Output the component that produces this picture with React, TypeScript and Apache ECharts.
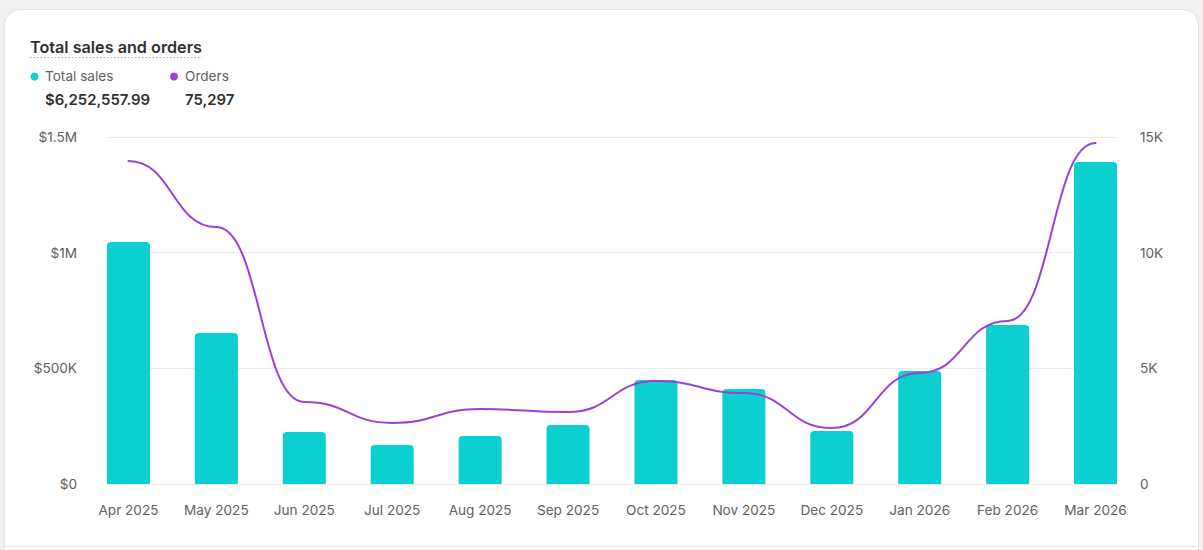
import React, { useEffect, useRef } from "react";
import * as echarts from "echarts";

// Monthly figures
const months = [
  "Apr 2025", "May 2025", "Jun 2025", "Jul 2025", "Aug 2025", "Sep 2025",
  "Oct 2025", "Nov 2025", "Dec 2025", "Jan 2026", "Feb 2026", "Mar 2026",
];
const totalSales = [
  1046000, 652700, 224800, 168600, 207500, 255000,
  449600, 410700, 229000, 488500, 687000, 1392000,
];
const orders = [
  13960, 11110, 3545, 2640, 3240, 3110,
  4450, 3930, 2420, 4800, 7050, 14740,
];
const salesTickLabels = ["$0", "$500K", "$1M", "$1.5M"];
const orderTickLabels = ["0", "5K", "10K", "15K"];
const totalSalesLabel = "$6,252,557.99";
const totalOrdersLabel = "75,297";

const FONT = "Inter, 'Noto Sans', sans-serif";
const SALES_COLOR = "#0ccfcf";
const ORDERS_COLOR = "#9744d6";

// Each item carries its own value and the next month's, so one curve
// segment can be drawn per month with horizontal tangents at both ends.
const orderSegments = orders.map((v, i) => [i, v, i < orders.length - 1 ? orders[i + 1] : v]);

export default function App() {
  const ref = useRef<HTMLDivElement>(null);

  useEffect(() => {
    if (!ref.current) return;
    const chart = echarts.init(ref.current, undefined, { renderer: "svg" });
    const axisText = { color: "#616161", fontSize: 13.6, fontFamily: FONT };

    chart.setOption({
      animation: false,
      backgroundColor: "transparent",
      textStyle: { fontFamily: FONT },
      grid: [
        { left: 84.5, right: 63.5, top: 137, bottom: 66 },
        { left: 106, right: 86, top: 137, bottom: 66 },
      ],
      xAxis: [
        {
          type: "category",
          gridIndex: 0,
          data: months,
          axisLine: { show: false },
          axisTick: { show: false },
          axisLabel: { ...axisText, margin: 19 },
        },
        { type: "value", gridIndex: 1, min: 0, max: 1, show: false },
      ],
      yAxis: [
        { type: "value", gridIndex: 0, min: 0, max: 1500000, show: false },
        { type: "value", gridIndex: 0, min: 0, max: 15000, show: false, position: "right" },
        {
          type: "value",
          gridIndex: 1,
          min: 0,
          max: 1500000,
          interval: 500000,
          position: "left",
          axisLine: { show: false },
          axisTick: { show: false },
          splitLine: { lineStyle: { color: "#ececec", width: 1 } },
          axisLabel: {
            ...axisText,
            margin: 29,
            formatter: (v: number) => salesTickLabels[Math.round(v / 500000)],
          },
        },
        {
          type: "value",
          gridIndex: 1,
          min: 0,
          max: 15000,
          interval: 5000,
          position: "right",
          axisLine: { show: false },
          axisTick: { show: false },
          splitLine: { show: false },
          axisLabel: {
            ...axisText,
            margin: 23,
            formatter: (v: number) => orderTickLabels[Math.round(v / 5000)],
          },
        },
      ],
      series: [
        {
          name: "Total sales",
          type: "bar",
          xAxisIndex: 0,
          yAxisIndex: 0,
          data: totalSales,
          barWidth: 43,
          itemStyle: { color: SALES_COLOR, borderRadius: [4, 4, 0, 0] },
          z: 2,
        },
        {
          name: "Orders",
          type: "custom",
          xAxisIndex: 0,
          yAxisIndex: 1,
          data: orderSegments,
          encode: { x: 0, y: 1 },
          z: 3,
          renderItem: (params: any, api: any) => {
            const i = api.value(0);
            if (i >= orders.length - 1) return null;
            const [x1, y1] = api.coord([i, api.value(1)]);
            const [x2, y2] = api.coord([i + 1, api.value(2)]);
            const half = (x2 - x1) * 0.5;
            return {
              type: "bezierCurve",
              shape: {
                x1, y1, x2, y2,
                cpx1: x1 + half, cpy1: y1,
                cpx2: x2 - half, cpy2: y2,
              },
              style: { stroke: ORDERS_COLOR, lineWidth: 2, fill: "none", lineCap: "round" },
            };
          },
        },
      ],
      graphic: [
        {
          type: "text",
          left: 30,
          top: 38.5,
          style: {
            text: "Total sales and orders",
            fill: "#303030",
            font: `600 16.2px ${FONT}`,
          },
        },
        {
          type: "line",
          shape: { x1: 30, y1: 57.5, x2: 202, y2: 57.5 },
          style: { stroke: "#a8a8a8", lineWidth: 1, lineDash: [1.5, 2] },
        },
        { type: "circle", shape: { cx: 34.5, cy: 76.5, r: 4 }, style: { fill: SALES_COLOR } },
        {
          type: "text",
          left: 45,
          top: 68.5,
          style: { text: "Total sales", fill: "#616161", font: `400 13.6px ${FONT}` },
        },
        {
          type: "text",
          left: 45,
          top: 92.5,
          style: { text: totalSalesLabel, fill: "#303030", font: `600 14.9px ${FONT}` },
        },
        { type: "circle", shape: { cx: 174, cy: 76.5, r: 4 }, style: { fill: ORDERS_COLOR } },
        {
          type: "text",
          left: 185,
          top: 68.5,
          style: { text: "Orders", fill: "#616161", font: `400 13.6px ${FONT}` },
        },
        {
          type: "text",
          left: 185,
          top: 92.5,
          style: { text: totalOrdersLabel, fill: "#303030", font: `600 14.9px ${FONT}` },
        },
      ],
    });

    return () => chart.dispose();
  }, []);

  return (
    <div
      style={{
        position: "fixed",
        left: 0,
        top: 0,
        width: 1203,
        height: 550,
        background: "#f1f1f1",
        overflow: "hidden",
      }}
    >
      <div
        style={{
          position: "absolute",
          left: 4,
          top: 9,
          width: 1193,
          height: 620,
          background: "#ffffff",
          border: "1px solid #e3e3e3",
          borderRadius: 16,
          boxShadow: "0 1px 2px rgba(0,0,0,0.04)",
        }}
      />
      <div
        style={{
          position: "absolute",
          left: 5,
          top: 546,
          width: 1193,
          height: 1,
          background: "#e6e6e6",
        }}
      />
      <div ref={ref} style={{ position: "absolute", left: 0, top: 0, width: 1203, height: 550 }} />
    </div>
  );
}
